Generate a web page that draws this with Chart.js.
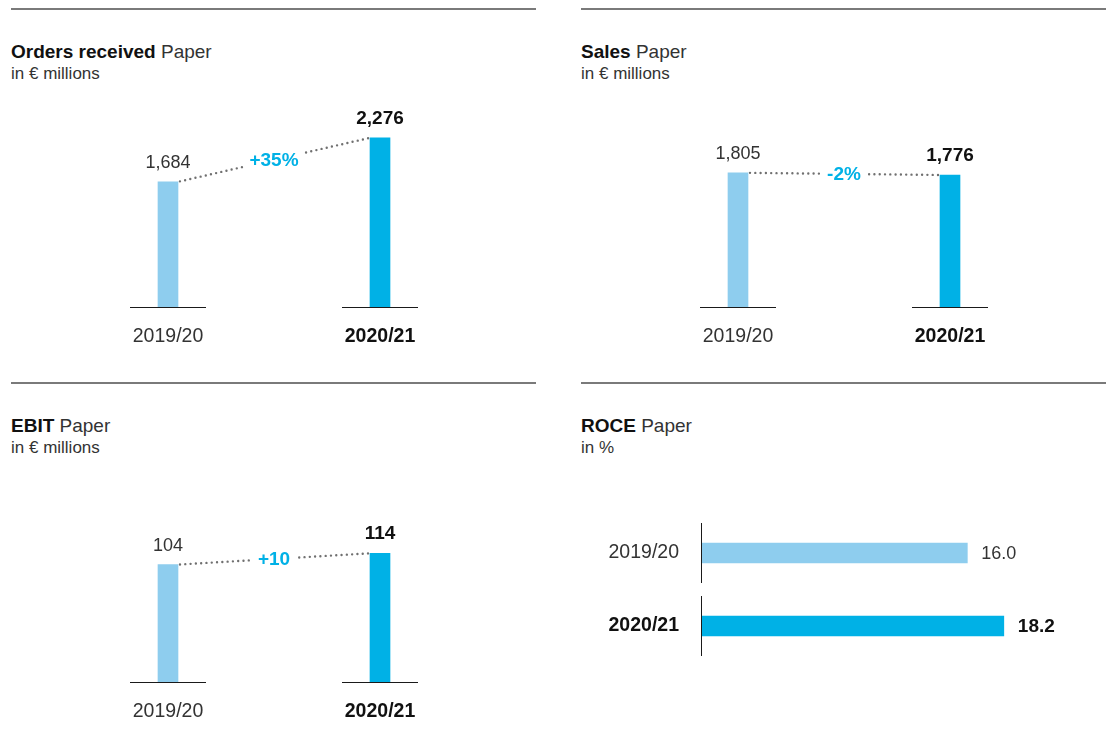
<!DOCTYPE html>
<html>
<head>
<meta charset="utf-8">
<script src="https://cdn.jsdelivr.net/npm/chart.js@4.4.0/dist/chart.umd.min.js"></script>
<style>
body { margin: 0; background: #fff; font-family: "Liberation Sans", Arial, sans-serif; }
#page { position: relative; width: 1112px; height: 751px; overflow: hidden; }
.rule { position: absolute; width: 525px; height: 0; border-top: 2px solid #7a7a7a; }
.title { position: absolute; font-size: 19px; line-height: 19px; color: #333; white-space: nowrap; }
.title b { color: #111; }
.sub { position: absolute; font-size: 17px; line-height: 17px; color: #333; white-space: nowrap; }
canvas { position: absolute; }
</style>
</head>
<body>
<div id="page">
  <div class="rule" style="left:11px;top:8px"></div>
  <div class="title" style="left:11px;top:42px"><b>Orders received</b> Paper</div>
  <div class="sub" style="left:11px;top:65px">in € millions</div>

  <div class="rule" style="left:581px;top:8px"></div>
  <div class="title" style="left:581px;top:42px"><b>Sales</b> Paper</div>
  <div class="sub" style="left:581px;top:65px">in € millions</div>

  <div class="rule" style="left:11px;top:382px"></div>
  <div class="title" style="left:11px;top:416px"><b>EBIT</b> Paper</div>
  <div class="sub" style="left:11px;top:439px">in € millions</div>

  <div class="rule" style="left:581px;top:382px"></div>
  <div class="title" style="left:581px;top:416px"><b>ROCE</b> Paper</div>
  <div class="sub" style="left:581px;top:439px">in %</div>

  <canvas id="orders" width="470" height="290" style="left:40px;top:80px"></canvas>
  <canvas id="sales" width="470" height="290" style="left:610px;top:80px"></canvas>
  <canvas id="ebit" width="470" height="290" style="left:40px;top:455px"></canvas>
  <canvas id="roce" width="530" height="180" style="left:580px;top:500px"></canvas>
</div>
<script>
// data
const years = ["2019/20", "2020/21"];
const ordersValues = [1684, 2276];
const salesValues = [1805, 1776];
const ebitValues = [104, 114];
const roceValues = [16.0, 18.2];
const ordersChange = "+35%";
const salesChange = "-2%";
const ebitChange = "+10";

const barColors = ["#8ecdee", "#00b1e6"];
const FONT = '"Liberation Sans", Arial, sans-serif';
Chart.defaults.font.family = FONT;

function tickFont(c) {
    return { size: 19.5, weight: c.index === 1 ? "bold" : "normal" };
}
function tickColor(c) {
    return c.index === 1 ? "#111" : "#333";
}

// baseline pieces, value labels and the dotted change line
const columnDeco = {
    id: "columnDeco",
    afterDatasetsDraw(chart, args, opts) {
        const ctx = chart.ctx;
        const bars = chart.getDatasetMeta(0).data;
        const vals = chart.data.datasets[0].data;
        const y0 = Math.round(chart.scales.y.getPixelForValue(0)) + 0.5;
        ctx.save();
        ctx.strokeStyle = "#1a1a1a";
        ctx.lineWidth = 1;
        bars.forEach(b => {
            ctx.beginPath();
            ctx.moveTo(b.x - 38, y0);
            ctx.lineTo(b.x + 38, y0);
            ctx.stroke();
        });

        ctx.textAlign = "center";
        ctx.textBaseline = "alphabetic";
        bars.forEach((b, i) => {
            ctx.font = (i ? "bold 19px " : "18px ") + FONT;
            ctx.fillStyle = i ? "#111" : "#333";
            ctx.fillText(vals[i].toLocaleString("en-US"), b.x, b.y - 14);
        });

        // dotted connector with a gap for the change label
        const x1 = bars[0].x + bars[0].width / 2, y1 = bars[0].y;
        const x2 = bars[1].x - bars[1].width / 2, y2 = bars[1].y;
        const mx = (x1 + x2) / 2, my = (y1 + y2) / 2;
        ctx.font = "bold 19px " + FONT;
        const gap = ctx.measureText(opts.text).width / 2 + 8;
        const len = Math.hypot(x2 - x1, y2 - y1);
        const ux = (x2 - x1) / len, uy = (y2 - y1) / len;
        ctx.strokeStyle = "#707070";
        ctx.lineWidth = 2.4;
        ctx.lineCap = "round";
        ctx.setLineDash([0, 5.3]);
        ctx.beginPath();
        ctx.moveTo(x1 + ux * 2, y1 + uy * 2);
        ctx.lineTo(mx - ux * gap, my - uy * gap);
        ctx.moveTo(x2 - ux * 2, y2 - uy * 2);
        ctx.lineTo(mx + ux * gap, my + uy * gap);
        ctx.stroke();
        ctx.setLineDash([]);
        ctx.fillStyle = "#00b1e6";
        ctx.textBaseline = "middle";
        ctx.fillText(opts.text, mx, my + 1);
        ctx.restore();
    }
};

function columnChart(id, values, yMax, change) {
    return new Chart(document.getElementById(id), {
        type: "bar",
        data: {
            labels: years,
            datasets: [{ data: values, backgroundColor: barColors, barThickness: 20, borderWidth: 0 }]
        },
        options: {
            responsive: false,
            animation: false,
            layout: { padding: { top: 17, left: 22, right: 24, bottom: 0 } },
            plugins: { legend: { display: false }, tooltip: { enabled: false }, columnDeco: { text: change } },
            scales: {
                x: {
                    grid: { display: false, drawTicks: false },
                    border: { display: false },
                    ticks: { padding: 18, font: tickFont, color: tickColor },
                    afterFit(s) { s.height = 63; }
                },
                y: { display: false, min: 0, max: yMax }
            }
        },
        plugins: [columnDeco]
    });
}

columnChart("orders", ordersValues, 2825, ordersChange);
columnChart("sales", salesValues, 2825, salesChange);
columnChart("ebit", ebitValues, 186, ebitChange);

// axis pieces and value labels for the horizontal bars
const barDeco = {
    id: "barDeco",
    afterDatasetsDraw(chart) {
        const ctx = chart.ctx;
        const bars = chart.getDatasetMeta(0).data;
        const vals = chart.data.datasets[0].data;
        const x0 = Math.round(chart.scales.x.getPixelForValue(0)) - 0.5;
        ctx.save();
        ctx.strokeStyle = "#1a1a1a";
        ctx.lineWidth = 1;
        bars.forEach(b => {
            ctx.beginPath();
            ctx.moveTo(x0, b.y - 30);
            ctx.lineTo(x0, b.y + 30);
            ctx.stroke();
        });
        ctx.textAlign = "left";
        ctx.textBaseline = "middle";
        bars.forEach((b, i) => {
            ctx.font = (i ? "bold 19px " : "18px ") + FONT;
            ctx.fillStyle = i ? "#111" : "#333";
            ctx.fillText(vals[i].toFixed(1), b.x + 14, b.y + 1);
        });
        ctx.restore();
    }
};

new Chart(document.getElementById("roce"), {
    type: "bar",
    data: {
        labels: years,
        datasets: [{ data: roceValues, backgroundColor: barColors, barThickness: 20, borderWidth: 0 }]
    },
    options: {
        indexAxis: "y",
        responsive: false,
        animation: false,
        layout: { padding: { top: 16.5, bottom: 17.5, left: 0, right: 10 } },
        plugins: { legend: { display: false }, tooltip: { enabled: false } },
        scales: {
            x: { display: false, min: 0, max: 24 },
            y: {
                grid: { display: false, drawTicks: false },
                border: { display: false },
                ticks: { padding: 23, font: tickFont, color: tickColor },
                afterFit(s) {
                    s.width = 122;
                    s.paddingTop = 0;
                    s.paddingBottom = 0;
                }
            }
        }
    },
    plugins: [barDeco]
});
</script>
</body>
</html>
